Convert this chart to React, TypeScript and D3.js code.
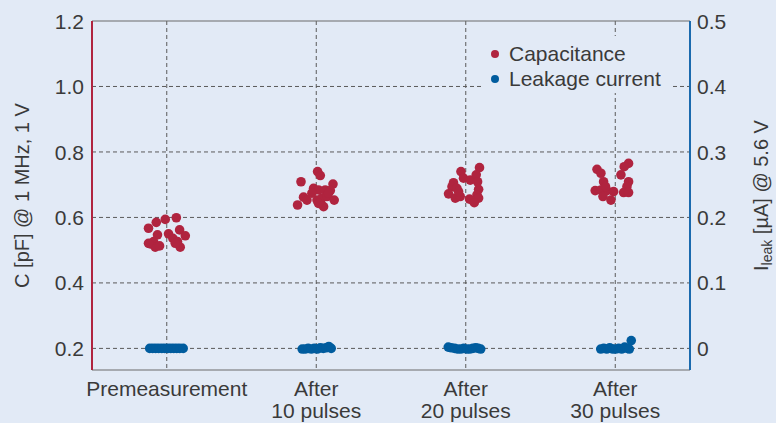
import React from "react";
import * as d3 from "d3";

// ---- data ----
const categories: string[][] = [
  ["Premeasurement"],
  ["After", "10 pulses"],
  ["After", "20 pulses"],
  ["After", "30 pulses"],
];
const leftTicks = [0.2, 0.4, 0.6, 0.8, 1.0, 1.2];
const rightTicks = [0, 0.1, 0.2, 0.3, 0.4, 0.5];

// capacitance points: [category index offset (jitter), value pF]
const capPre: [number, number][] = [
  [-0.122, 0.567], [-0.07, 0.585], [-0.01, 0.594], [0.064, 0.599], [-0.062, 0.547],
  [-0.11, 0.519], [-0.088, 0.526], [-0.077, 0.509], [-0.048, 0.513], [0.012, 0.55],
  [0.041, 0.536], [0.086, 0.562], [0.124, 0.544], [0.072, 0.526], [0.09, 0.509],
  [0.057, 0.521], [-0.122, 0.521],
];
const cap10: [number, number][] = [
  [0.009, 0.74], [0.027, 0.728], [-0.102, 0.709], [0.112, 0.702], [-0.018, 0.689],
  [0.015, 0.684], [0.06, 0.684], [0.094, 0.682], [-0.085, 0.662], [-0.062, 0.653],
  [-0.125, 0.638], [0.005, 0.653], [0.038, 0.659], [0.072, 0.664], [0.12, 0.653],
  [0.049, 0.633], [0.015, 0.643], [-0.029, 0.674], [0.082, 0.674],
];
const cap20: [number, number][] = [
  [0.092, 0.752], [-0.032, 0.74], [-0.015, 0.72], [0.03, 0.714], [0.07, 0.73],
  [0.079, 0.709], [-0.082, 0.706], [-0.092, 0.694], [-0.059, 0.689], [-0.115, 0.672],
  [-0.07, 0.659], [-0.037, 0.664], [0.086, 0.686], [0.075, 0.669], [0.086, 0.659],
  [0.025, 0.656], [0.057, 0.645], [-0.048, 0.679],
];
const cap30: [number, number][] = [
  [-0.122, 0.747], [-0.096, 0.735], [0.089, 0.765], [0.06, 0.755], [0.038, 0.73],
  [-0.078, 0.709], [0.089, 0.709], [0.078, 0.694], [-0.134, 0.682], [-0.096, 0.684],
  [-0.056, 0.682], [-0.011, 0.679], [-0.082, 0.664], [-0.029, 0.653], [0.056, 0.676],
  [0.089, 0.676], [-0.065, 0.694],
];

// leakage points: [jitter, value µA]
const leakPre: [number, number][] = [
  [-0.114, 0], [-0.094, 0], [-0.074, 0], [-0.054, 0], [-0.033, 0], [-0.013, 0],
  [0.007, 0], [0.027, 0], [0.047, 0], [0.067, 0], [0.087, 0], [0.11, 0],
];
const leak10: [number, number][] = [
  [-0.094, -0.001], [-0.074, -0.001], [-0.054, 0], [-0.033, -0.001], [-0.013, 0],
  [0.007, -0.001], [0.027, 0.001], [0.047, 0], [0.067, 0.001], [0.084, 0.003], [0.1, 0],
];
const leak20: [number, number][] = [
  [-0.117, 0.002], [-0.097, 0.001], [-0.074, 0], [-0.054, -0.001], [-0.033, -0.001],
  [-0.013, 0], [0.007, -0.001], [0.027, -0.001], [0.047, 0], [0.067, 0.001],
  [0.084, 0], [0.1, -0.001],
];
const leak30: [number, number][] = [
  [-0.097, -0.001], [-0.077, 0], [-0.057, -0.001], [-0.037, 0.001], [-0.017, -0.001],
  [0.003, -0.001], [0.023, 0], [0.043, -0.001], [0.063, 0.002], [0.08, 0],
  [0.094, -0.001], [0.107, 0.012],
];

const capGroups = [capPre, cap10, cap20, cap30];
const leakGroups = [leakPre, leak10, leak20, leak30];

// ---- styles ----
const W = 776;
const H = 423;
const BG = "#e2eaf6";
const RED = "#b0243f";
const BLUE = "#005c9e";
const TEXT = "#3a3a3a";
const GRID = "#5a5a5a";
const FONT = "'Liberation Sans', Arial, sans-serif";

export default function App() {
  const m = { left: 92, right: 690, top: 21, bottom: 370 };
  const x = d3.scaleLinear().domain([-0.5, 3.5]).range([m.left, m.right]);
  const yL = d3.scaleLinear().domain([0.134, 1.2]).range([m.bottom, m.top]);
  const yR = d3.scaleLinear().domain([-0.033, 0.5]).range([m.bottom, m.top]);
  const r = 4.8;

  return (
    <div style={{ position: "absolute", left: 0, top: 0 }}>
      <svg width={W} height={H} style={{ display: "block" }} fontFamily={FONT}>
        <rect x={0} y={0} width={W} height={H} fill={BG} />
        {/* gridlines */}
        {leftTicks.filter((t) => t < 1.19).map((t) => (
          <line key={"h" + t} x1={m.left} x2={m.right} y1={yL(t)} y2={yL(t)}
            stroke={GRID} strokeWidth={1} strokeDasharray="4,3" />
        ))}
        {categories.map((_, i) => (
          <line key={"v" + i} x1={x(i)} x2={x(i)} y1={m.top} y2={m.bottom}
            stroke={GRID} strokeWidth={1} strokeDasharray="4,3" />
        ))}
        {/* legend background */}
        <rect x={484} y={36} width={188} height={57} fill={BG} />
        {/* points */}
        {capGroups.map((g, i) =>
          g.map((p, j) => (
            <circle key={`c${i}-${j}`} cx={x(i + p[0])} cy={yL(p[1])} r={r} fill={RED} />
          ))
        )}
        {leakGroups.map((g, i) =>
          g.map((p, j) => (
            <circle key={`l${i}-${j}`} cx={x(i + p[0])} cy={yR(p[1])} r={r} fill={BLUE} />
          ))
        )}
        {/* frame */}
        <line x1={m.left} x2={m.right} y1={m.top} y2={m.top} stroke="#6a6a6a" strokeWidth={1.2} />
        <line x1={m.left} x2={m.right} y1={m.bottom} y2={m.bottom} stroke="#6a6a6a" strokeWidth={1.2} />
        <line x1={m.left} x2={m.left} y1={m.top} y2={m.bottom} stroke={RED} strokeWidth={2} />
        <line x1={m.right} x2={m.right} y1={m.top} y2={m.bottom} stroke="#1a6aae" strokeWidth={2} />
        {/* left ticks */}
        {leftTicks.map((t) => (
          <text key={"lt" + t} x={84} y={yL(t)} dy="0.36em" textAnchor="end"
            fontSize={21} fill={TEXT}>{d3.format(".1f")(t)}</text>
        ))}
        {rightTicks.map((t) => (
          <text key={"rt" + t} x={697} y={yR(t)} dy="0.36em" textAnchor="start"
            fontSize={21} fill={TEXT}>{t === 0 ? "0" : d3.format(".1f")(t)}</text>
        ))}
        {/* category labels */}
        {categories.map((lines, i) => (
          <text key={"cat" + i} x={x(i)} y={396} textAnchor="middle" fontSize={21} fill={TEXT}>
            {lines.map((ln, k) => (
              <tspan key={k} x={x(i)} dy={k === 0 ? 0 : 22}>{ln}</tspan>
            ))}
          </text>
        ))}
        {/* axis titles */}
        <text transform={`translate(29,${(m.top + m.bottom) / 2}) rotate(-90)`}
          textAnchor="middle" fontSize={20} fill={TEXT}>C [pF] @ 1 MHz, 1 V</text>
        <text transform={`translate(768,${(m.top + m.bottom) / 2}) rotate(-90)`}
          textAnchor="middle" fontSize={20} fill={TEXT}>
          I<tspan fontSize={14} dy={4}>leak</tspan><tspan dy={-4}> [µA] @ 5.6 V</tspan>
        </text>
        {/* legend */}
        <circle cx={495} cy={54} r={4} fill={RED} />
        <text x={509} y={61} fontSize={21} fill={TEXT}>Capacitance</text>
        <circle cx={495} cy={79} r={4} fill={BLUE} />
        <text x={509} y={86} fontSize={21} fill={TEXT}>Leakage current</text>
      </svg>
    </div>
  );
}
